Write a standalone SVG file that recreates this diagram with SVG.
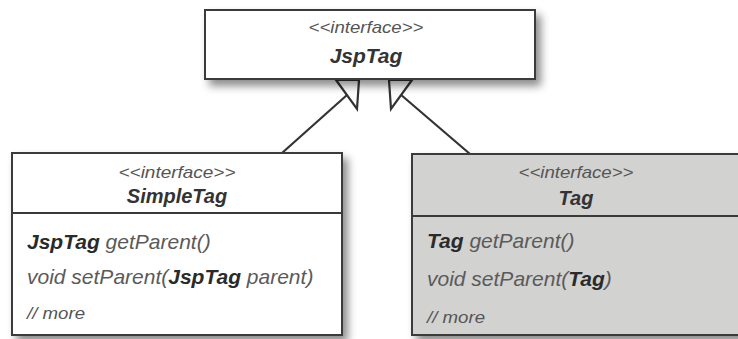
<svg xmlns="http://www.w3.org/2000/svg" width="738" height="339" viewBox="0 0 738 339">
<defs>
<filter id="sh" x="-10%" y="-10%" width="125%" height="135%">
<feDropShadow dx="5" dy="6" stdDeviation="4" flood-color="#000" flood-opacity="0.45"/>
</filter>
</defs>
<style>
.box{stroke:#3a3a3a;stroke-width:2}
.w{fill:#ffffff}
.g{fill:#d2d2d0}
.div{stroke:#3a3a3a;stroke-width:2}
text{font-family:"Liberation Sans",Arial,sans-serif;font-style:italic}
.st{font-size:17px;fill:#555}
.nm{font-size:20px;font-weight:bold;fill:#333}
.m{font-size:21px;fill:#5a5a5a}
.b{font-weight:bold;fill:#2a2a2a}
.more{font-size:16px;fill:#555}
.conn{stroke:#333;stroke-width:2.2;fill:none}
.tri{stroke:#333;stroke-width:2.2;fill:#fff}
</style>
<rect x="0" y="0" width="738" height="339" fill="#ffffff"/>
<g id="connectors">
<line class="conn" x1="282" y1="153" x2="347" y2="95"/>
<line class="conn" x1="400" y1="94" x2="470" y2="154"/>
<polygon class="tri" points="336,80 359,80 357,109"/>
<polygon class="tri" points="389,80 412,80 391,109"/>
</g>
<g id="JspTag">
<rect class="box w" x="205" y="10" width="330" height="69" filter="url(#sh)"/>
<text class="st" x="366" y="33" text-anchor="middle" textLength="115" lengthAdjust="spacingAndGlyphs">&lt;&lt;interface&gt;&gt;</text>
<text class="nm" x="366" y="63" text-anchor="middle" style="font-size:21px">JspTag</text>
</g>
<g id="SimpleTag">
<rect class="box w" x="12" y="153" width="330" height="182" filter="url(#sh)"/>
<line class="div" x1="12" y1="213" x2="342" y2="213"/>
<text class="st" x="177" y="178" text-anchor="middle" textLength="117" lengthAdjust="spacingAndGlyphs">&lt;&lt;interface&gt;&gt;</text>
<text class="nm" x="177" y="203" text-anchor="middle">SimpleTag</text>
<text class="m" x="27" y="249"><tspan class="b">JspTag</tspan> getParent()</text>
<text class="m" x="27" y="284">void setParent(<tspan class="b">JspTag</tspan> parent)</text>
<text class="more" x="27" y="319" textLength="58" lengthAdjust="spacingAndGlyphs">// more</text>
</g>
<g id="Tag">
<rect class="box g" x="412" y="154" width="340" height="181" filter="url(#sh)"/>
<line class="div" x1="412" y1="216" x2="738" y2="216"/>
<text class="st" x="576" y="178" text-anchor="middle" textLength="115" lengthAdjust="spacingAndGlyphs">&lt;&lt;interface&gt;&gt;</text>
<text class="nm" x="576" y="205" text-anchor="middle">Tag</text>
<text class="m" x="427" y="248"><tspan class="b">Tag</tspan> getParent()</text>
<text class="m" x="427" y="286">void setParent(<tspan class="b">Tag</tspan>)</text>
<text class="more" x="427" y="323" textLength="58" lengthAdjust="spacingAndGlyphs">// more</text>
</g>
</svg>
